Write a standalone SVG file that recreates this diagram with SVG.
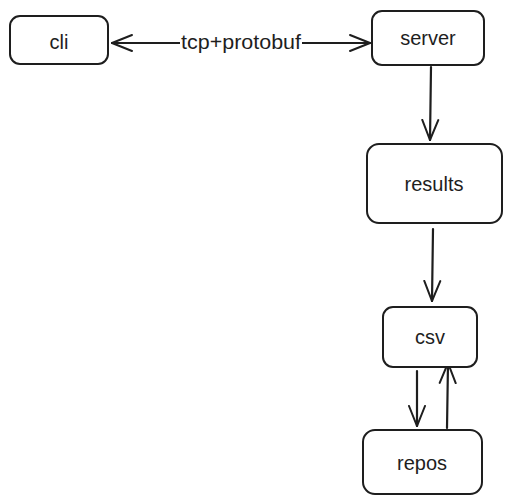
<svg xmlns="http://www.w3.org/2000/svg" width="511" height="504" viewBox="0 0 511 504">
<defs>
<style>
.box{fill:#fff;stroke:#1e1e1e;stroke-width:2}
.lbl{font-family:"Liberation Sans",Arial,sans-serif;font-size:20px;fill:#1e1e1e;text-anchor:middle;dominant-baseline:central}
.edge{fill:none;stroke:#1e1e1e;stroke-width:2.2;stroke-linecap:round;stroke-linejoin:round}
</style>
<marker id="ah" viewBox="0 0 22 22" refX="21" refY="11" markerWidth="22" markerHeight="22" markerUnits="userSpaceOnUse" orient="auto-start-reverse">
<path d="M1,3 L21,11 L1,19" fill="none" stroke="#1e1e1e" stroke-width="2" stroke-linecap="round"/>
</marker>
</defs>
<rect width="511" height="504" fill="#fff"/>
<g id="connectors">
<path class="edge" d="M112,43 L370,43" marker-start="url(#ah)" marker-end="url(#ah)"/>
<rect x="180" y="32" width="122" height="22" fill="#fff"/>
<text class="lbl" x="241" y="42" textLength="120" lengthAdjust="spacingAndGlyphs">tcp+protobuf</text>
<path class="edge" d="M431,67 L430,140" marker-end="url(#ah)"/>
<path class="edge" d="M433,229 L432,301" marker-end="url(#ah)"/>
<path class="edge" d="M417,371 L417,426" marker-end="url(#ah)"/>
<path class="edge" d="M447,428 L448,363" marker-end="url(#ah)"/>
</g>
<g id="cli">
<rect class="box" x="10" y="16" width="98" height="48" rx="10"/>
<text class="lbl" x="59" y="42">cli</text>
</g>
<g id="server">
<rect class="box" x="372" y="11" width="112" height="54" rx="10"/>
<text class="lbl" x="428" y="38">server</text>
</g>
<g id="results">
<rect class="box" x="367" y="144" width="135" height="79" rx="12"/>
<text class="lbl" x="434" y="184">results</text>
</g>
<g id="csv">
<rect class="box" x="383" y="307" width="94" height="60" rx="10"/>
<text class="lbl" x="430" y="337">csv</text>
</g>
<g id="repos">
<rect class="box" x="363" y="430" width="119" height="64" rx="12"/>
<text class="lbl" x="422" y="463">repos</text>
</g>
</svg>
